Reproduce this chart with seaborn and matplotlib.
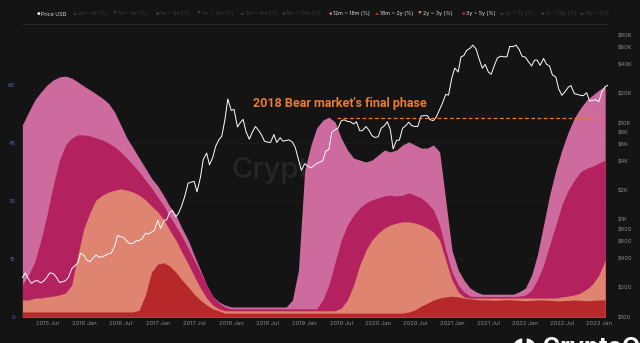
import matplotlib
matplotlib.use("Agg")
import numpy as np
import pandas as pd
import matplotlib.pyplot as plt
import seaborn as sns
from matplotlib.ticker import FixedLocator, FixedFormatter, NullLocator

# ---------------- data ----------------
months = pd.date_range("2015-03-01", periods=96, freq="MS")

band_12m_18m = [49.7, 53.0, 56.1, 58.2, 60.0, 61.3, 62.1, 62.3, 61.8, 60.8,
                59.7, 58.7, 57.7, 56.6, 55.3, 53.0, 49.7, 46.3, 43.7, 41.1,
                38.5, 35.9, 33.9, 31.3, 28.7, 26.4, 23.0, 19.9, 16.0, 12.2,
                8.3, 5.4, 3.9, 3.1, 2.6, 2.6, 2.6, 2.6, 2.6, 2.6,
                2.6, 2.6, 2.6, 2.6, 4.4, 12.2, 38.0, 44.5, 48.9, 50.9,
                51.7, 50.4, 46.3, 43.2, 41.1, 40.6, 40.1, 40.6, 41.9, 43.2,
                42.7, 43.2, 44.5, 45.3, 44.5, 43.7, 43.7, 44.5, 42.7, 30.3,
                17.3, 12.2, 9.6, 7.5, 6.5, 5.9, 5.9, 5.9, 5.9, 5.9,
                5.9, 6.5, 7.5, 10.9, 16.0, 23.8, 31.5, 38.0, 43.2, 47.8,
                51.5, 54.0, 56.1, 57.4, 58.7, 59.7]

band_3y_5y = [8.3, 10.9, 14.2, 19.9, 26.4, 34.1, 40.6, 44.5, 46.3, 47.1,
              47.1, 46.8, 46.3, 45.8, 45.0, 44.0, 42.7, 41.1, 39.3, 37.5,
              35.4, 33.4, 31.0, 28.7, 26.1, 23.5, 20.9, 17.8, 14.7, 11.6,
              8.3, 5.4, 3.6, 2.6, 2.1, 2.1, 2.1, 2.1, 2.1, 2.1,
              2.1, 2.1, 2.1, 2.1, 2.1, 2.1, 2.1, 2.1, 2.1, 4.4,
              8.3, 14.2, 19.9, 23.8, 26.4, 28.2, 29.5, 30.3, 30.8, 31.3,
              31.5, 31.3, 31.5, 32.1, 31.5, 30.8, 29.5, 27.7, 23.8, 17.3,
              11.6, 8.3, 6.5, 5.4, 5.3, 5.3, 5.3, 5.3, 5.3, 5.3,
              5.3, 5.4, 5.7, 7.0, 9.6, 13.4, 18.6, 23.8, 29.0, 32.8,
              35.4, 37.5, 38.5, 39.0, 39.8, 40.6]

band_2y_3y = [4.4, 4.4, 4.9, 4.9, 5.2, 5.4, 5.7, 6.2, 8.3, 16.0,
              23.0, 27.2, 30.3, 31.5, 32.3, 32.8, 33.1, 32.8, 32.3, 31.5,
              30.3, 28.7, 27.2, 25.1, 22.5, 19.9, 16.8, 13.7, 10.6, 7.5,
              4.9, 3.1, 2.1, 1.6, 1.6, 1.6, 1.6, 1.6, 1.6, 1.6,
              1.6, 1.6, 1.6, 1.6, 1.6, 1.6, 1.6, 1.6, 1.6, 1.6,
              1.6, 1.6, 2.3, 4.4, 8.3, 13.4, 17.3, 19.9, 21.7, 23.0,
              23.8, 24.3, 24.6, 24.6, 24.3, 23.8, 23.0, 22.0, 19.9, 14.7,
              9.6, 6.5, 5.2, 4.9, 4.9, 4.9, 4.9, 4.9, 4.9, 4.9,
              4.9, 4.9, 4.9, 4.9, 4.9, 4.9, 4.9, 4.9, 5.2, 5.4,
              5.7, 6.2, 7.2, 8.5, 10.9, 14.7]

band_18m_2y = [1.3, 1.3, 1.3, 1.3, 1.3, 1.3, 1.3, 1.3, 1.3, 1.3,
               1.3, 1.3, 1.3, 1.3, 1.3, 1.3, 1.3, 1.3, 1.3, 1.8,
               5.7, 11.6, 13.7, 14.0, 13.2, 11.6, 9.6, 7.8, 5.9, 4.4,
               3.1, 2.1, 1.6, 1.0, 1.0, 1.0, 1.0, 1.0, 1.0, 1.0,
               1.0, 1.0, 1.0, 1.0, 1.0, 1.0, 1.0, 1.0, 1.0, 1.0,
               1.0, 1.0, 1.0, 1.0, 1.0, 1.0, 1.0, 1.0, 1.0, 1.0,
               1.0, 1.0, 1.0, 1.3, 1.8, 2.8, 3.6, 4.4, 4.9, 5.2,
               5.4, 5.2, 4.9, 4.7, 4.5, 4.4, 4.4, 4.3, 4.4, 4.5,
               4.4, 4.3, 4.2, 4.3, 4.4, 4.4, 4.3, 4.2, 4.2, 4.3,
               4.4, 4.3, 4.2, 4.3, 4.4, 4.4]

price_dates = pd.date_range("2015-03-01", "2023-02-15", freq="SMS")
price_usd = [
    # 2015 Mar-Dec
    255, 285, 245, 222, 235, 237, 225, 235, 258, 285,
    280, 260, 228, 230, 237, 255, 315, 335, 360, 455,
    # 2016
    432, 385, 372, 405, 435, 415, 417, 430, 450, 455, 535, 690,
    675, 660, 605, 570, 575, 608, 615, 640, 730, 715, 750, 780,
    # 2017
    995, 820, 985, 1010, 1190, 1250, 1080, 1180, 1420, 1750, 2400, 2450,
    2500, 1950, 2750, 4200, 4900, 3700, 4400, 5700, 6750, 7300, 10900, 17700,
    # 2018
    13500, 13800, 9100, 10100, 10900, 8200, 6800, 8000, 9200, 8500, 7500, 6500,
    6350, 6300, 7600, 6300, 7050, 6500, 6600, 6700, 6350, 5600, 4200, 3250,
    # 2019
    3800, 3600, 3450, 3620, 3820, 3920, 4100, 5100, 5350, 8000, 8550, 8800,
    10500, 10800, 10400, 10300, 9750, 10300, 8300, 8350, 9200, 8500, 7400, 7100,
    # 2020
    7200, 8800, 9400, 10300, 8550, 5400, 6650, 6650, 8850, 9300, 10200, 9400,
    9200, 9200, 11800, 11900, 11900, 10800, 10600, 11500, 13800, 16000, 19700, 19400,
    # 2021
    29400, 36800, 33500, 48000, 49600, 56000, 59000, 63500, 57800, 46500, 36700, 40200,
    33500, 31800, 39900, 47000, 48800, 48100, 48100, 61500, 61300, 63500, 57200, 48900,
    # 2022
    47700, 43100, 38700, 44500, 44400, 39300, 46300, 40500, 38500, 31300, 29800, 22500,
    19300, 20800, 23300, 24300, 20100, 19700, 19300, 19100, 20500, 16900, 17000, 17400,
    # 2023 Jan-Feb
    16600, 20900, 23700, 24500,
]

left_ticks = [0, 15, 30, 45, 60]
right_ticks = [100, 200, 400, 600, 800, 1000, 2000, 4000, 6000, 8000,
               10000, 20000, 40000, 60000, 80000]
right_labels = ["$100", "$200", "$400", "$600", "$800", "$1K", "$2K", "$4K",
                "$6K", "$8K", "$10K", "$20K", "$40K", "$60K", "$80K"]
x_ticks = pd.date_range("2015-07-01", "2023-01-01", freq="6MS")
x_labels = [d.strftime("%Y %b") for d in x_ticks]

legend_names = ["Price USD", "0d ~ 1d (%)", "1d ~ 1w (%)", "1w ~ 1m (%)",
                "1m ~ 3m (%)", "3m ~ 6m (%)", "6m ~ 12m (%)", "12m ~ 18m (%)",
                "18m ~ 2y (%)", "2y ~ 3y (%)", "3y ~ 5y (%)", "5y ~ 7y (%)",
                "7y ~ 10y (%)", "10y ~ (%)"]

bear_level = 11300
annotation = "2018 Bear market's final phase"

# ---------------- style ----------------
BG = "#141414"
C_PINK = "#cd6a9e"
C_MAG = "#b3225f"
C_SAL = "#df8470"
C_RED = "#b6282a"
C_ORANGE = "#ec7a2c"

sns.set_theme(style="dark", rc={"axes.facecolor": BG, "figure.facecolor": BG})
plt.rcParams["font.family"] = ["Inter", "DejaVu Sans"]

fig = plt.figure(figsize=(6.4, 3.43), dpi=100, facecolor=BG)
x0, x1 = 22.4 / 640, 608 / 640
y0, y1 = 1 - 317 / 343, 1 - 24 / 343
ax = fig.add_axes([x0, y0, x1 - x0, y1 - y0])
ax.set_facecolor(BG)

xmin, xmax = pd.Timestamp("2015-03-01"), pd.Timestamp("2023-02-15")

# watermark (behind everything)
ax.text(pd.Timestamp("2019-03-20"), 38, "CryptoQuant", fontsize=21,
        color="#262626", ha="center", va="center", zorder=0.5,
        fontweight="medium")

for vals, col in [(band_12m_18m, C_PINK), (band_3y_5y, C_MAG),
                  (band_2y_3y, C_SAL), (band_18m_2y, C_RED)]:
    ax.fill_between(months, 0, vals, color=col, lw=0, zorder=1)

ax.set_xlim(xmin, xmax)
ax.set_ylim(0, 293 * 15 / 58)
ax.yaxis.set_major_locator(FixedLocator(left_ticks))
ax.set_yticklabels([str(t) for t in left_ticks])
ax.tick_params(axis="y", colors="#5b5fa8", labelsize=4.2, length=0, pad=5)
ax.set_xticks(x_ticks)
ax.set_xticklabels(x_labels)
ax.tick_params(axis="x", colors="#8a8a8a", labelsize=4.2, length=0, pad=3)
ax.grid(axis="y", color="#1d1d1d", lw=0.5)
ax.grid(axis="x", visible=False)
for s in ["left", "right", "bottom"]:
    ax.spines[s].set_visible(False)
ax.spines["top"].set_color("#2c2c2c")
ax.spines["top"].set_linewidth(0.6)

ax2 = ax.twinx()
sns.lineplot(x=price_dates, y=price_usd, ax=ax2, color="white", lw=0.7,
             zorder=5)
ax2.set_yscale("log")
ax2.set_ylim(100, 10 ** (2 + 293 / 97))
ax2.set_xlim(xmin, xmax)
ax2.yaxis.set_major_locator(FixedLocator(right_ticks))
ax2.yaxis.set_major_formatter(FixedFormatter(right_labels))
ax2.yaxis.set_minor_locator(NullLocator())
ax2.tick_params(axis="y", colors="#8a8a8a", labelsize=4.0, length=0, pad=7)
ax2.set_ylabel("")
ax2.grid(False)
for s in ["left", "right", "bottom", "top"]:
    ax2.spines[s].set_visible(False)

ax2.hlines(bear_level, pd.Timestamp("2019-06-10"), pd.Timestamp("2022-12-20"),
           colors=C_ORANGE, linestyles=(0, (3, 2)), lw=0.9, zorder=6)
ax2.text(pd.Timestamp("2019-06-25"), 16000, annotation, color=C_ORANGE,
         fontsize=9.0, fontweight="bold", ha="center", va="center",
         zorder=7, family=["Roboto", "DejaVu Sans"])

# legend row
leg_x = [38, 75, 115, 157, 199, 242, 283, 330, 377, 420, 463, 502, 542, 582]
markers = ["●", "▲", "▼", "■", "▼", "▲", "●", "●", "▲", "▼", "●", "▲", "●", "▲"]
mcolors = ["#ffffff"] + ["#3a3a3a"] * 6 + [C_PINK, C_RED, C_SAL, C_MAG] + ["#3a3a3a"] * 3
tcolors = ["#e0e0e0"] + ["#3a3a3a"] * 6 + ["#e0e0e0"] * 4 + ["#3a3a3a"] * 3
ly = 1 - 14 / 343
for xp, name, mk, mc, tc in zip(leg_x, legend_names, markers, mcolors, tcolors):
    fig.text(xp / 640, ly, mk, color=mc, fontsize=2.8, ha="center", va="center")
    fig.text((xp + 3) / 640, ly, name, color=tc, fontsize=3.8, ha="left",
             va="center")

# partially visible logo at the bottom right (cut off in the reference too)
fig.text(512 / 640, 1 - 337 / 343, "\u25d6\u25d7 CryptoQuant", color="white",
         fontsize=17, fontweight="bold", ha="left", va="top")

fig.savefig("out.png", dpi=100, facecolor=BG)
